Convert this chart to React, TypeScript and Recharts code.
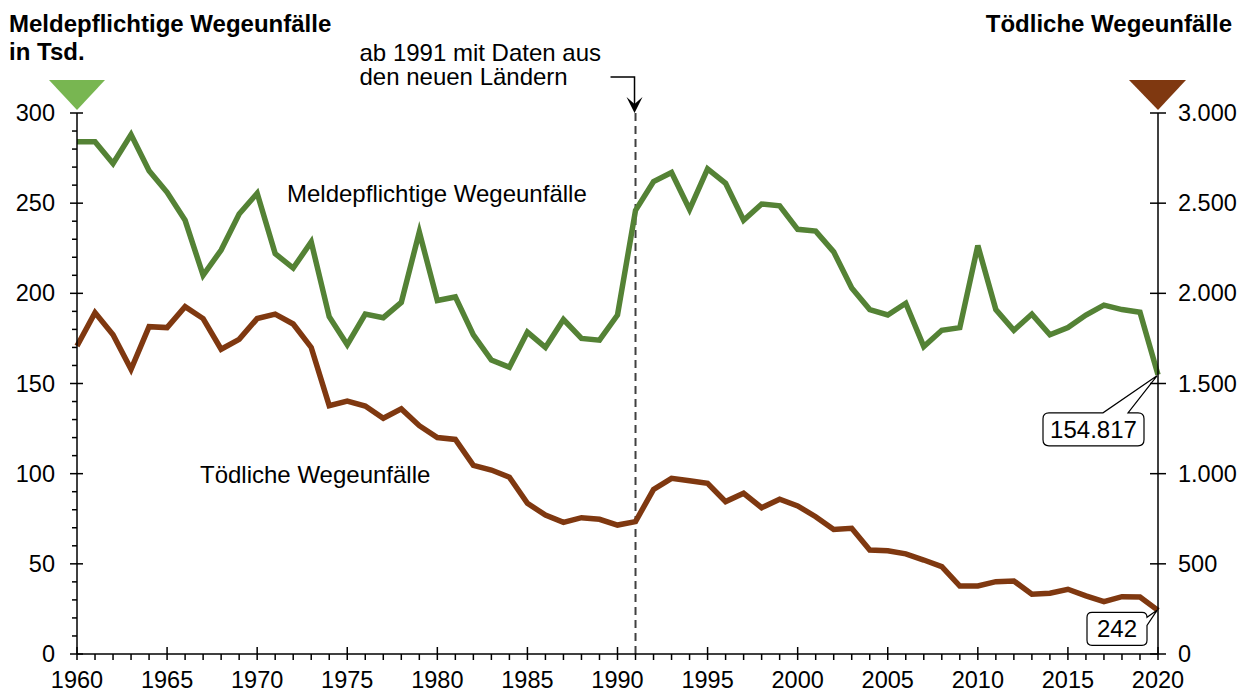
import React from 'react';
import { ComposedChart, Line, XAxis, YAxis, ReferenceLine, ReferenceDot } from 'recharts';

const years: number[] = [
  1960, 1961, 1962, 1963, 1964, 1965, 1966, 1967, 1968, 1969,
  1970, 1971, 1972, 1973, 1974, 1975, 1976, 1977, 1978, 1979,
  1980, 1981, 1982, 1983, 1984, 1985, 1986, 1987, 1988, 1989,
  1990, 1991, 1992, 1993, 1994, 1995, 1996, 1997, 1998, 1999,
  2000, 2001, 2002, 2003, 2004, 2005, 2006, 2007, 2008, 2009,
  2010, 2011, 2012, 2013, 2014, 2015, 2016, 2017, 2018, 2019,
  2020,
];

// Meldepflichtige Wegeunfälle in Tsd.
const meldepflichtig: number[] = [
  284, 284, 272, 288, 268, 256, 240.5, 210, 224, 244,
  255.5, 222, 214, 228.5, 187, 171.5, 188.5, 186.5, 195, 234,
  196, 198, 177, 163, 159, 178.5, 170, 185.5, 175, 174,
  188, 246, 262, 267, 246.5, 269, 261, 240.5, 249.5, 248.5,
  235.5, 234.5, 223, 203, 191, 188, 194.5, 170.5, 179.5, 181,
  226.5, 191, 179.5, 188.5, 177, 181, 188, 193.5, 191, 189.5,
  154.817,
];

// Tödliche Wegeunfälle
const toedlich: number[] = [
  1708, 1893, 1770, 1579, 1815, 1810, 1926, 1860, 1690, 1745,
  1860, 1885, 1830, 1700, 1377, 1403, 1375, 1307, 1359, 1266,
  1200, 1190, 1046, 1020, 980, 836, 770, 730, 756, 747,
  715, 734, 913, 974, 961, 946, 845, 891, 811, 858,
  821, 761, 691, 697, 577, 573, 555, 521, 484, 377,
  377, 401, 405, 331, 337, 359, 322, 290, 318, 316,
  242,
];

const xTicks: number[] = years;
const leftTicks: number[] = [0, 10, 20, 30, 40, 50, 60, 70, 80, 90, 100, 110, 120, 130, 140, 150, 160, 170, 180, 190, 200, 210, 220, 230, 240, 250, 260, 270, 280, 290, 300];
const rightTicks: number[] = [0, 500, 1000, 1500, 2000, 2500, 3000];

const data = years.map((year, i) => ({ year, melde: meldepflichtig[i], toed: toedlich[i] }));

const FONT = '"Liberation Sans", Arial, Helvetica, sans-serif';
const GREEN = '#548235';
const GREEN_LIGHT = '#78b651';
const BROWN = '#7f3810';
const AXIS = '#000000';
const FS = 23.5;
const FL = 24;

const fmtDE = (v: number): string => {
  if (v >= 1000) {
    const t = Math.floor(v / 1000);
    const r = Math.round(v % 1000);
    return `${t}.${String(r).padStart(3, '0')}`;
  }
  return String(v);
};

const XTick = (props: any) => {
  const { x, y, payload } = props;
  const v = payload.value as number;
  const major = v % 5 === 0;
  return (
    <g>
      <line x1={x} x2={x} y1={major ? y - 7 : y} y2={y + 6} stroke={AXIS} strokeWidth={1.5} />
      {major && (
        <text x={x} y={y + 34} textAnchor="middle" fontSize={FS} fontFamily={FONT} fill="#000">
          {v}
        </text>
      )}
    </g>
  );
};

const LeftTick = (props: any) => {
  const { x, y, payload } = props;
  const v = payload.value as number;
  const major = v % 50 === 0;
  return (
    <g>
      <line x1={major ? x - 7 : x - 5} x2={major ? x + 6 : x} y1={y} y2={y} stroke={AXIS} strokeWidth={1.5} />
      {major && (
        <text x={x - 22} y={y + 8} textAnchor="end" fontSize={FS} fontFamily={FONT} fill="#000">
          {v}
        </text>
      )}
      {v === 300 && (
        <polygon points={`${x - 28},${y - 33} ${x + 28},${y - 33} ${x},${y - 3}`} fill={GREEN_LIGHT} />
      )}
    </g>
  );
};

const RightTick = (props: any) => {
  const { x, y, payload } = props;
  const v = payload.value as number;
  return (
    <g>
      <line x1={x - 8} x2={x + 8} y1={y} y2={y} stroke={AXIS} strokeWidth={1.5} />
      <text x={x + 20} y={y + 8} textAnchor="start" fontSize={FS} fontFamily={FONT} fill="#000">
        {fmtDE(v)}
      </text>
      {v === 3000 && (
        <polygon points={`${x - 29},${y - 33} ${x + 28},${y - 33} ${x},${y - 3}`} fill={BROWN} />
      )}
    </g>
  );
};

const AnnotationShape = (props: any) => {
  const { cx, cy } = props;
  const ax = cx - 1;
  return (
    <g>
      <text x={cx - 276} y={cy - 52} fontSize={FL} fontFamily={FONT} fill="#000">
        <tspan x={cx - 276} y={cy - 52}>ab 1991 mit Daten aus</tspan>
        <tspan x={cx - 276} y={cy - 28}>den neuen Ländern</tspan>
      </text>
      <polyline points={`${cx - 25},${cy - 36} ${ax},${cy - 36} ${ax},${cy - 9}`} fill="none" stroke="#000" strokeWidth={1.5} />
      <polygon points={`${ax},${cy} ${ax - 8},${cy - 16} ${ax},${cy - 9} ${ax + 8},${cy - 16}`} fill="#000" />
    </g>
  );
};

const GreenCallout = (props: any) => {
  const { cx, cy } = props;
  const L = cx - 115, R = cx - 14, T = cy + 38, B = cy + 71, r = 6;
  const d = `M ${L + r},${T} H ${cx - 55} L ${cx - 1},${cy + 1} L ${cx - 30},${T} H ${R - r} Q ${R},${T} ${R},${T + r} V ${B - r} Q ${R},${B} ${R - r},${B} H ${L + r} Q ${L},${B} ${L},${B - r} V ${T + r} Q ${L},${T} ${L + r},${T} Z`;
  return (
    <g>
      <path d={d} fill="#fff" stroke="#000" strokeWidth={1.2} />
      <text x={(L + R) / 2} y={B - 8} textAnchor="middle" fontSize={FL} fontFamily={FONT} fill="#000">154.817</text>
    </g>
  );
};

const BrownCallout = (props: any) => {
  const { cx, cy } = props;
  const L = cx - 71, R = cx - 11, T = cy + 2, B = cy + 35, r = 5;
  const d = `M ${L + r},${T} H ${R - r} Q ${R},${T} ${R},${T + r} L ${cx - 1},${cy} L ${R},${T + 13} V ${B - r} Q ${R},${B} ${R - r},${B} H ${L + r} Q ${L},${B} ${L},${B - r} V ${T + r} Q ${L},${T} ${L + r},${T} Z`;
  return (
    <g>
      <path d={d} fill="#fff" stroke="#000" strokeWidth={1.2} />
      <text x={(L + R) / 2} y={B - 8} textAnchor="middle" fontSize={FL} fontFamily={FONT} fill="#000">242</text>
    </g>
  );
};

export default function App() {
  return (
    <div style={{ position: 'absolute', left: 0, top: 0, width: 1247, height: 693, background: '#fff' }}>
      <ComposedChart
        width={1247}
        height={693}
        data={data}
        margin={{ top: 113, right: 9, bottom: 9, left: 17 }}
      >
        <XAxis
          dataKey="year"
          type="number"
          domain={[1960, 2020]}
          ticks={xTicks}
          interval={0}
          height={30}
          tickSize={0}
          tickMargin={0}
          tickLine={false}
          axisLine={{ stroke: AXIS, strokeWidth: 1.5 }}
          tick={(p: any) => <XTick {...p} />}
        />
        <YAxis
          yAxisId="left"
          type="number"
          domain={[0, 300]}
          ticks={leftTicks}
          interval={0}
          width={60}
          tickSize={0}
          tickMargin={0}
          tickLine={false}
          axisLine={{ stroke: AXIS, strokeWidth: 1.5 }}
          tick={(p: any) => <LeftTick {...p} />}
        />
        <YAxis
          yAxisId="right"
          orientation="right"
          type="number"
          domain={[0, 3000]}
          ticks={rightTicks}
          interval={0}
          width={80}
          tickSize={0}
          tickMargin={0}
          tickLine={false}
          axisLine={{ stroke: AXIS, strokeWidth: 1.5 }}
          tick={(p: any) => <RightTick {...p} />}
        />
        <ReferenceLine x={1991} yAxisId="left" stroke="#404040" strokeWidth={2} strokeDasharray="8 5" />
        <Line
          yAxisId="left"
          dataKey="melde"
          type="linear"
          stroke={GREEN}
          strokeWidth={5.5}
          dot={false}
          activeDot={false}
          isAnimationActive={false}
        />
        <Line
          yAxisId="right"
          dataKey="toed"
          type="linear"
          stroke={BROWN}
          strokeWidth={5.5}
          dot={false}
          activeDot={false}
          isAnimationActive={false}
        />
        <ReferenceDot x={1991} y={300} yAxisId="left" r={0} shape={(p: any) => <AnnotationShape {...p} />} />
        <ReferenceDot x={2020} y={154.817} yAxisId="left" r={0} shape={(p: any) => <GreenCallout {...p} />} />
        <ReferenceDot x={2020} y={242} yAxisId="right" r={0} shape={(p: any) => <BrownCallout {...p} />} />
      </ComposedChart>
      <svg width={1247} height={693} style={{ position: 'absolute', left: 0, top: 0, pointerEvents: 'none' }}>
        <text x={9} y={32} fontSize={24} fontWeight="bold" fontFamily={FONT} fill="#000">
          <tspan x={9} y={32}>Meldepflichtige Wegeunfälle</tspan>
          <tspan x={9} y={60}>in Tsd.</tspan>
        </text>
        <text x={1232} y={32} fontSize={24} fontWeight="bold" fontFamily={FONT} fill="#000" textAnchor="end">Tödliche Wegeunfälle</text>
        <text x={287} y={202} fontSize={FL} fontFamily={FONT} fill="#000">Meldepflichtige Wegeunfälle</text>
        <text x={200} y={483} fontSize={FL} fontFamily={FONT} fill="#000">Tödliche Wegeunfälle</text>
      </svg>
    </div>
  );
}
